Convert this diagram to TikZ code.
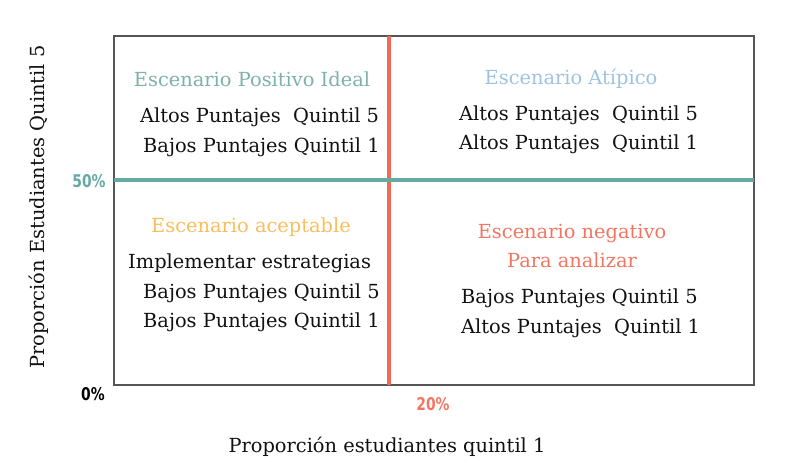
\documentclass[tikz,border=0pt]{standalone}
\usepackage{fontspec}
\setmainfont{DejaVu Serif}
\newfontfamily\pctfont[FakeStretch=0.88]{DejaVu Sans Condensed}
\definecolor{frame}{HTML}{555555}
\definecolor{tealline}{HTML}{64A9A3}
\definecolor{tealtxt}{HTML}{7DB2A6}
\definecolor{bluetxt}{HTML}{9DC3DF}
\definecolor{yellowtxt}{HTML}{F9BE5C}
\definecolor{redtxt}{HTML}{F27561}
\definecolor{redline}{HTML}{F06A55}
\definecolor{ink}{HTML}{111111}
\tikzset{
  body/.style={font=\fontsize{19.4}{22}\selectfont, text=ink, inner sep=0pt, anchor=base west},
  title/.style={font=\fontsize{19.4}{22}\selectfont, inner sep=0pt, anchor=base},
  pct/.style={font=\pctfont\bfseries\fontsize{17.5}{20}\selectfont, inner sep=0pt, anchor=base},
  axislabel/.style={font=\fontsize{19.4}{22}\selectfont, text=ink, inner sep=0pt, anchor=base},
}
\begin{document}
\begin{tikzpicture}[x=1pt,y=-1pt]
\useasboundingbox (0,0) rectangle (801,471);
\coordinate (tl) at (114,36);
\coordinate (br) at (754,385);
\coordinate (hl) at (114,180);
\coordinate (hr) at (754,180);
\coordinate (vt) at (389,36);
\coordinate (vb) at (389,385);
\draw[frame, line width=1.4pt] (tl) rectangle (br);
\draw[redline, line width=3.5pt] (vt) -- (vb);
\draw[tealline, line width=4pt] (hl) -- (hr);
% top-left
\node[title, text=tealtxt] (t1) at (252,86) {Escenario Positivo Ideal};
\node[body] (a1) at (140,122) {Altos Puntajes\ \ Quintil 5};
\node[body] (a2) at (143,152) {Bajos Puntajes Quintil 1};
% top-right
\node[title, text=bluetxt] (t2) at (571,84) {Escenario Atípico};
\node[body] (b1) at (459,120) {Altos Puntajes\ \ Quintil 5};
\node[body] (b2) at (459,149) {Altos Puntajes\ \ Quintil 1};
% bottom-left
\node[title, text=yellowtxt] (t3) at (251,232) {Escenario aceptable};
\node[body] (c0) at (128,268) {Implementar estrategias};
\node[body] (c1) at (143,298) {Bajos Puntajes Quintil 5};
\node[body] (c2) at (143,327) {Bajos Puntajes Quintil 1};
% bottom-right
\node[title, text=redtxt] (t4) at (572,238) {Escenario negativo};
\node[title, text=redtxt] (t5) at (572,267) {Para analizar};
\node[body] (d1) at (461,303) {Bajos Puntajes Quintil 5};
\node[body] (d2) at (461,333) {Altos Puntajes\ \ Quintil 1};
% percentages
\node[pct, text=tealline] (p50) at (89,187) {50\%};
\node[pct, text=black] (p0) at (93,400) {0\%};
\node[pct, text=redtxt] (p20) at (433,410) {20\%};
% axis labels
\node[axislabel] (xl) at (387,452) {Proporción estudiantes quintil 1};
\node[axislabel, rotate=90] (yl) at (44,207) {Proporción Estudiantes Quintil 5};
\end{tikzpicture}
\end{document}
